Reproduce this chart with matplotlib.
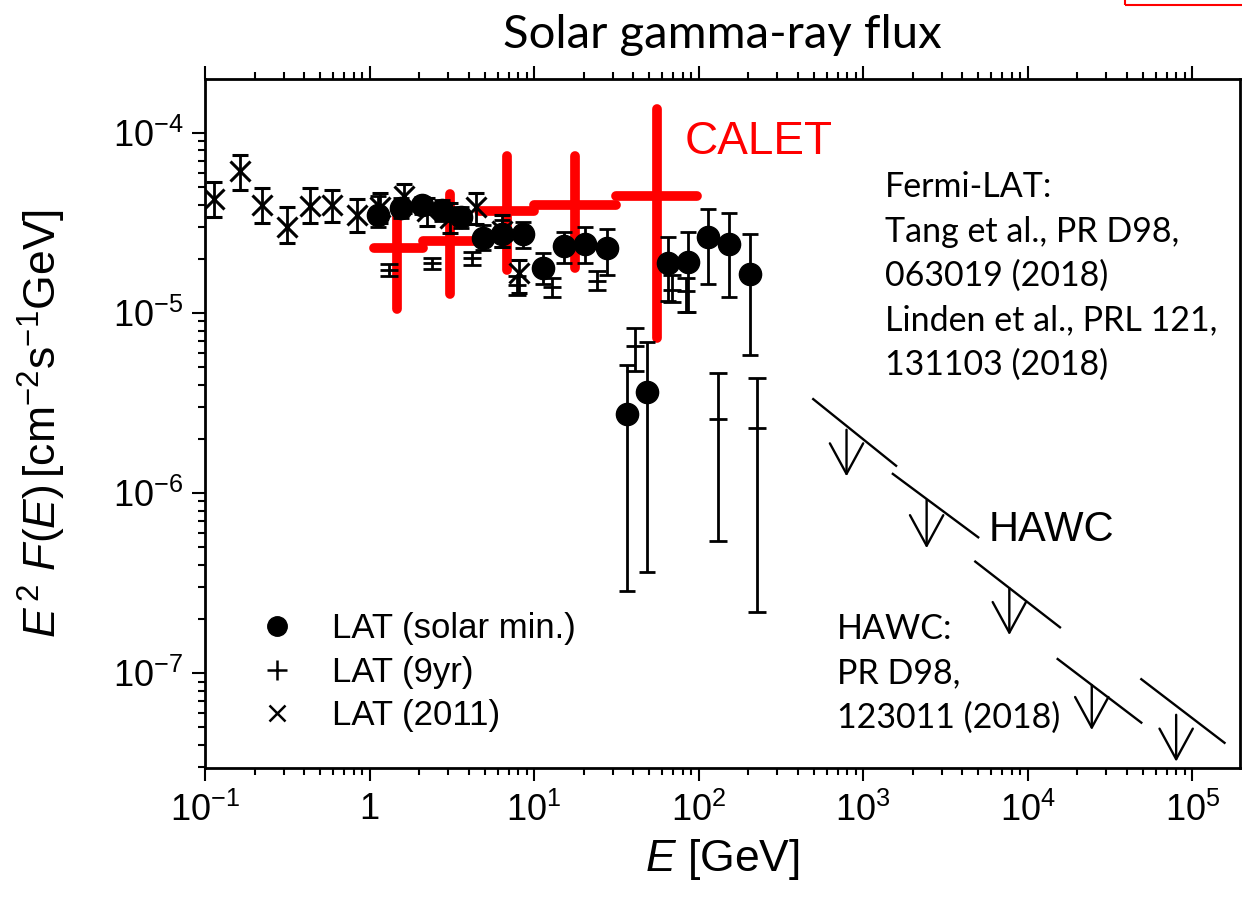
import numpy as np
import matplotlib
matplotlib.use('Agg')
import matplotlib.pyplot as plt
from matplotlib.lines import Line2D
from matplotlib.patches import Rectangle
from matplotlib.ticker import LogLocator, NullFormatter

plt.rcParams['font.family'] = ['Liberation Sans', 'DejaVu Sans']
plt.rcParams['mathtext.fontset'] = 'custom'
plt.rcParams['mathtext.rm'] = 'Liberation Sans'
plt.rcParams['mathtext.it'] = 'Liberation Sans:italic'
plt.rcParams['mathtext.bf'] = 'Liberation Sans:bold'

# ---- LAT (solar min.) : filled circles ----
min_E = [1.13, 1.56, 2.07, 2.74, 3.62, 4.86, 6.34, 8.51, 11.4, 15.3,
         20.3, 27.6, 36.5, 48.3, 64.9, 85.9, 114, 152, 205]
min_F = [3.52e-5, 3.85e-5, 4.0e-5, 3.75e-5, 3.43e-5, 2.62e-5, 2.76e-5, 2.76e-5, 1.79e-5, 2.37e-5,
         2.43e-5, 2.31e-5, 2.76e-6, 3.65e-6, 1.90e-5, 1.93e-5, 2.65e-5, 2.43e-5, 1.65e-5]
min_hi = [4.48e-5, 4.37e-5, 4.43e-5, 4.26e-5, 3.90e-5, 3.10e-5, 3.30e-5, 3.22e-5, 2.16e-5, 2.83e-5,
          3.02e-5, 2.94e-5, 5.16e-6, 6.93e-6, 2.65e-5, 2.83e-5, 3.80e-5, 3.61e-5, 2.76e-5]
min_lo = [3.02e-5, 3.38e-5, 3.56e-5, 3.26e-5, 2.98e-5, 2.25e-5, 2.34e-5, 2.31e-5, 1.46e-5, 1.90e-5,
          1.90e-5, 1.63e-5, 2.86e-7, 3.66e-7, 1.17e-5, 1.02e-5, 1.46e-5, 1.23e-5, 5.87e-6]

# ---- LAT (9yr) : plus ----
yr9_E = [1.32, 2.38, 4.17, 7.83, 12.8, 24.0, 40.8, 68.6, 83.5, 131, 226]
yr9_F = [1.74e-5, 1.90e-5, 2.03e-5, 1.44e-5, 1.40e-5, 1.51e-5, 6.58e-6, 1.35e-5, 1.33e-5, 2.59e-6, 2.31e-6]
yr9_hi = [1.88e-5, 2.03e-5, 2.19e-5, 1.61e-5, 1.57e-5, 1.72e-5, 8.28e-6, 1.63e-5, 1.57e-5, 4.66e-6, 4.37e-6]
yr9_lo = [1.61e-5, 1.76e-5, 1.85e-5, 1.26e-5, 1.23e-5, 1.35e-5, 4.78e-6, 1.16e-5, 1.02e-5, 5.43e-7, 2.19e-7]

# ---- LAT (2011) : crosses ----
y11_E = [0.114, 0.164, 0.223, 0.316, 0.437, 0.594, 0.843, 1.165, 1.61, 2.25, 3.10, 4.41, 6.34, 8.05]
y11_F = [4.31e-5, 6.18e-5, 4.0e-5, 3.02e-5, 3.95e-5, 4.0e-5, 3.52e-5, 3.90e-5, 4.48e-5, 3.70e-5,
         3.38e-5, 3.90e-5, 2.87e-5, 1.67e-5]
y11_hi = [5.36e-5, 7.57e-5, 4.97e-5, 3.90e-5, 4.97e-5, 4.84e-5, 4.31e-5, 4.66e-5, 5.23e-5, 4.37e-5,
          4.10e-5, 4.66e-5, 3.52e-5, 1.98e-5]
y11_lo = [3.43e-5, 4.84e-5, 3.18e-5, 2.46e-5, 3.18e-5, 3.22e-5, 2.83e-5, 3.18e-5, 3.61e-5, 3.05e-5,
          2.79e-5, 3.13e-5, 2.34e-5, 1.30e-5]

# ---- CALET ----
calet_edges = [1.06, 2.1, 4.6, 10.0, 31.6, 98.0]
calet_E = [1.47, 3.1, 6.8, 17.8, 55.6]
calet_F = [2.30e-5, 2.50e-5, 3.67e-5, 4.0e-5, 4.49e-5]
calet_hi = [3.4e-5, 4.57e-5, 7.46e-5, 7.46e-5, 1.36e-4]
calet_lo = [1.06e-5, 1.28e-5, 1.73e-5, 1.77e-5, 7.24e-6]

# ---- HAWC upper limits ----
hawc_E1 = [497, 1514, 4800, 15200, 49000]
hawc_E2 = [1585, 5000, 15700, 49000, 157000]
hawc_F1 = [3.33e-6, 1.28e-6, 4.17e-7, 1.20e-7, 9.27e-8]
hawc_F2 = [1.42e-6, 5.69e-7, 1.80e-7, 5.32e-8, 4.11e-8]
hawc_arrow_E = [792, 2430, 7730, 24500, 79800]
hawc_arrow_top = [2.25e-6, 9.18e-7, 2.97e-7, 8.61e-8, 5.88e-8]
hawc_arrow_tip = [1.24e-6, 4.95e-7, 1.63e-7, 4.84e-8, 3.23e-8]

x_ticks = [1e-1, 1, 1e1, 1e2, 1e3, 1e4, 1e5]
x_ticklabels = [r'$10^{-1}$', '1', r'$10^{1}$', r'$10^{2}$', r'$10^{3}$', r'$10^{4}$', r'$10^{5}$']
y_ticks = [1e-7, 1e-6, 1e-5, 1e-4]
y_ticklabels = [r'$10^{-7}$', r'$10^{-6}$', r'$10^{-5}$', r'$10^{-4}$']

fig = plt.figure(figsize=(12.42, 9.01), dpi=100)
ax = fig.add_axes([205 / 1242, 1 - 768 / 901, 1035 / 1242, 689 / 901])
ax.set_xscale('log')
ax.set_yscale('log')

def asym(v, lo, hi):
    v, lo, hi = np.array(v), np.array(lo), np.array(hi)
    return [v - lo, hi - v]

# CALET (behind the black points)
for i in range(len(calet_F)):
    ax.plot([calet_edges[i], calet_edges[i + 1]], [calet_F[i], calet_F[i]],
            color='#ff0000', lw=7, solid_capstyle='round', zorder=2)
    ax.plot([calet_E[i], calet_E[i]], [calet_lo[i], calet_hi[i]],
            color='#ff0000', lw=7, solid_capstyle='round', zorder=2)

ax.errorbar(y11_E, y11_F, yerr=asym(y11_F, y11_lo, y11_hi), fmt='x', ms=14, mew=2.2,
            color='k', elinewidth=2, capsize=5.5, capthick=2, zorder=3)
ax.errorbar(yr9_E, yr9_F, yerr=asym(yr9_F, yr9_lo, yr9_hi), fmt='_', ms=13, mew=2,
            color='k', elinewidth=2, capsize=6.5, capthick=2, zorder=3)
ax.errorbar(min_E, min_F, yerr=asym(min_F, min_lo, min_hi), fmt='o', ms=16,
            color='k', elinewidth=2, capsize=6, capthick=2, zorder=4)

# HAWC
for i in range(len(hawc_E1)):
    ax.plot([hawc_E1[i], hawc_E2[i]], [hawc_F1[i], hawc_F2[i]], color='k', lw=1.7, zorder=3)
    ax.annotate('', xy=(hawc_arrow_E[i], hawc_arrow_tip[i]),
                xytext=(hawc_arrow_E[i], hawc_arrow_top[i]),
                arrowprops=dict(arrowstyle='->,head_length=2.2,head_width=1.2',
                                color='k', lw=1.7, shrinkA=0, shrinkB=0),
                zorder=3)

ax.set_xlim(0.1, 10 ** 5.29)
ax.set_ylim(10 ** -7.526, 10 ** -3.70)
ax.set_xticks(x_ticks, x_ticklabels)
ax.set_yticks(y_ticks, y_ticklabels)
ax.xaxis.set_minor_locator(LogLocator(base=10, subs=np.arange(2, 10), numticks=30))
ax.yaxis.set_minor_locator(LogLocator(base=10, subs=np.arange(2, 10), numticks=30))
ax.xaxis.set_minor_formatter(NullFormatter())
ax.yaxis.set_minor_formatter(NullFormatter())
ax.tick_params(which='both', direction='out', top=True, right=False, width=1.5)
ax.tick_params(which='major', length=9.5, labelsize=26)
ax.tick_params(which='minor', length=5)
ax.tick_params(axis='x', which='major', pad=8)
ax.tick_params(axis='y', which='major', pad=6)
for sp in ax.spines.values():
    sp.set_linewidth(2)

ax.set_xlabel(r'$E\ $[GeV]', fontsize=32)
ax.xaxis.set_label_coords(0.5, -0.1)
ax.set_ylabel(r'$E^{\,2}\ F(E)\,[\mathrm{cm}^{-2}\mathrm{s}^{-1}\mathrm{GeV}]$', fontsize=32)
ax.yaxis.set_label_coords(-0.132, 0.5)

fig.text(722 / 1242, 1 - 48 / 901, 'Solar gamma-ray flux', fontsize=34,
         family=['Lato', 'DejaVu Sans'], ha='center', va='baseline')

ax.text(0.535, 0.9086, 'CALET', color='#ff0000', fontsize=33,
        transform=ax.transAxes, ha='center', va='center')
ax.text(0.818, 0.3454, 'HAWC', color='k', fontsize=30,
        transform=ax.transAxes, ha='center', va='center')

ax.text(0.657, 0.866, 'Fermi-LAT:\nTang et al., PR D98,\n063019 (2018)\nLinden et al., PRL 121,\n131103 (2018)',
        fontsize=24.5, family=['Lato', 'DejaVu Sans'], transform=ax.transAxes,
        ha='left', va='top', linespacing=1.47)
ax.text(0.6106, 0.225, 'HAWC:\nPR D98,\n123011 (2018)',
        fontsize=24.5, family=['Lato', 'DejaVu Sans'], transform=ax.transAxes,
        ha='left', va='top', linespacing=1.47)

handles = [Line2D([], [], ls='none', marker='o', ms=14, color='k'),
           Line2D([], [], ls='none', marker='+', ms=15, mew=1.8, color='k'),
           Line2D([], [], ls='none', marker='x', ms=12, mew=1.8, color='k')]
ax.legend(handles, ['LAT (solar min.)', 'LAT (9yr)', 'LAT (2011)'],
          loc='upper left', bbox_to_anchor=(0.054, 0.226), frameon=False,
          fontsize=25, handlelength=0.95, handletextpad=1.1, labelspacing=0.3,
          borderpad=0, borderaxespad=0)

fig.patches.append(Rectangle((1125 / 1242, 1 - 5 / 901), 0.2, 0.1, fill=False,
                             edgecolor='#ff0000', lw=1.5, transform=fig.transFigure))

fig.savefig('out.png', dpi=100)
